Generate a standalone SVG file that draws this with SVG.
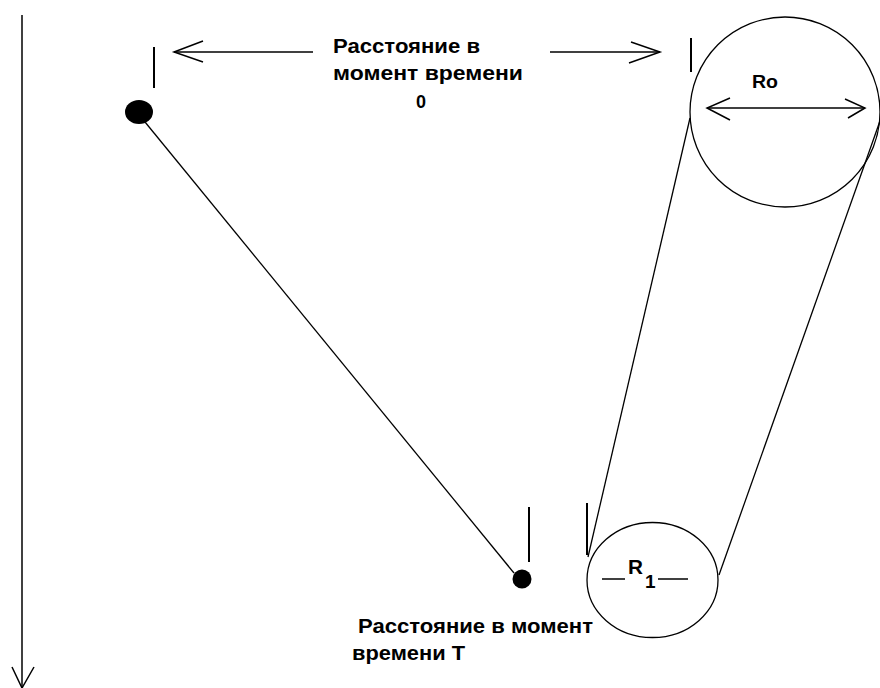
<svg xmlns="http://www.w3.org/2000/svg" width="880" height="688" viewBox="0 0 880 688">
<style>
.ln{stroke:#000;stroke-width:1.3;fill:none}
.tk{stroke:#000;stroke-width:2;fill:none}
.ar{stroke:#000;stroke-width:1.5;fill:none}
.t{font-family:"Liberation Sans",Arial,sans-serif;font-weight:bold;fill:#000}
</style>
<rect width="880" height="688" fill="#fff"/>
<g id="connectors">
<line class="ar" x1="22" y1="15" x2="22" y2="688"/>
<polyline class="ar" points="12,667 22,688 34,667"/>
<line class="ar" x1="174" y1="52" x2="313" y2="52"/>
<polyline class="ar" points="203,41 174,52 203,62"/>
<line class="ar" x1="550" y1="52" x2="660" y2="52"/>
<polyline class="ar" points="631,42 660,52 629,63"/>
<line class="ln" x1="145" y1="122" x2="514" y2="573"/>
<line class="ln" x1="690" y1="118" x2="588" y2="557"/>
<line class="ln" x1="880" y1="121" x2="719" y2="575"/>
<line class="ar" x1="707" y1="108" x2="865" y2="108"/>
<polyline class="ar" points="730,98 707,108 730,120"/>
<polyline class="ar" points="845,99 865,108 848,118"/>
<line class="ar" x1="602" y1="579" x2="625" y2="579"/>
<line class="ar" x1="658" y1="579" x2="688" y2="579"/>
</g>
<g id="tick-start"><line class="tk" x1="154" y1="47" x2="154" y2="88"/></g>
<g id="tick-big"><line class="tk" x1="691" y1="38" x2="691" y2="72"/></g>
<g id="tick-end"><line class="tk" x1="529" y1="507" x2="529" y2="562"/></g>
<g id="tick-small"><line class="tk" x1="587" y1="503" x2="587" y2="555"/></g>
<g id="dot-start"><ellipse cx="139" cy="112" rx="14" ry="12" fill="#000"/></g>
<g id="dot-end"><circle cx="522" cy="579" r="9.5" fill="#000"/></g>
<g id="circle-big"><ellipse class="ln" cx="785" cy="112" rx="95" ry="95"/>
<text class="t" x="752" y="88" font-size="18" textLength="26" lengthAdjust="spacingAndGlyphs">Ro</text></g>
<g id="circle-small"><ellipse class="ln" cx="652.5" cy="580" rx="65.5" ry="57.5"/>
<text class="t" x="628" y="574" font-size="21" textLength="15" lengthAdjust="spacingAndGlyphs">R</text>
<text class="t" x="645" y="588" font-size="19">1</text></g>
<g id="label-top">
<text class="t" x="333" y="53" font-size="19.5" textLength="147" lengthAdjust="spacingAndGlyphs">Расстояние в</text>
<text class="t" x="333" y="80" font-size="19.5" textLength="190" lengthAdjust="spacingAndGlyphs">момент времени</text>
<text class="t" x="416" y="108" font-size="18">0</text>
</g>
<g id="label-bottom">
<text class="t" x="358" y="633" font-size="19.5" textLength="235" lengthAdjust="spacingAndGlyphs">Расстояние в момент</text>
<text class="t" x="352" y="660" font-size="19.5" textLength="113" lengthAdjust="spacingAndGlyphs">времени Т</text>
</g>
</svg>
